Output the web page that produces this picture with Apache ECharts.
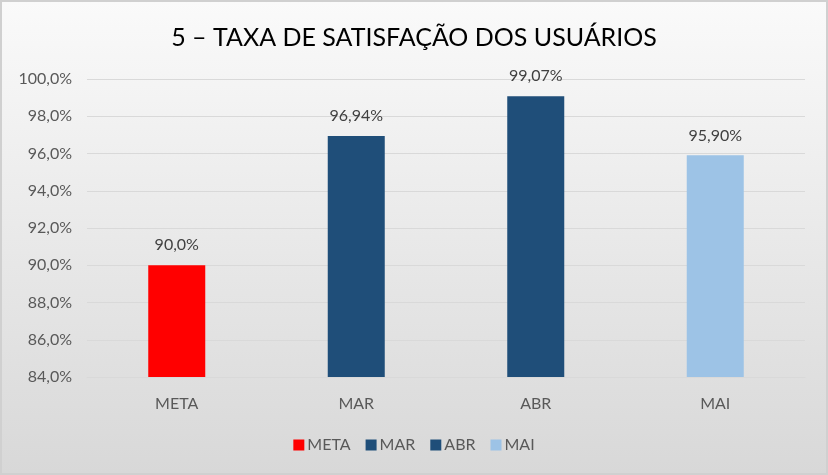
<!DOCTYPE html>
<html><head><meta charset="utf-8">
<script src="https://cdn.jsdelivr.net/npm/echarts@6/dist/echarts.min.js"></script>
<style>html,body{margin:0;padding:0;background:#fff}#c{width:828px;height:475px;box-sizing:border-box;border:2px solid #d0d0d0}</style>
</head><body><div id="c"></div>
<script>
const categories = ['META', 'MAR', 'ABR', 'MAI'];
const values = [90.0, 96.94, 99.07, 95.90];
const valueLabels = ['90,0%', '96,94%', '99,07%', '95,90%'];
const colors = ['#ff0000', '#1f4e79', '#1f4e79', '#9dc3e6'];
const yMin = 84, yMax = 100, yStep = 2;

const chart = echarts.init(document.getElementById('c'), null, {renderer: 'canvas'});
const font = 'Lato, "Open Sans", sans-serif';
const series = categories.map((name, i) => ({
  name: name,
  type: 'bar',
  stack: 'all',
  barWidth: 57,
  itemStyle: {color: colors[i]},
  data: categories.map((c, j) => j === i ? values[i] : null),
  label: {show: true, position: 'top', distance: 12, color: '#404040', fontSize: 16, fontFamily: font,
    formatter: () => valueLabels[i]}
}));
chart.setOption({
  backgroundColor: {type: 'linear', x: 0, y: 0, x2: 0, y2: 1,
    colorStops: [{offset: 0, color: '#fafafa'}, {offset: 1, color: '#d8d8d8'}]},
  title: {text: '5 – TAXA DE SATISFAÇÃO DOS USUÁRIOS', left: 'center', top: 18,
    textStyle: {fontFamily: font, fontWeight: 'normal', fontSize: 25, color: '#000'}},
  legend: {bottom: 15, left: 'center', itemWidth: 11, itemHeight: 11, itemGap: 15, icon: 'rect',
    textStyle: {fontFamily: font, fontSize: 16, color: '#595959', padding: [0, 0, 0, -2]},
    data: categories},
  grid: {left: 85, right: 21, top: 77, bottom: 96},
  xAxis: {type: 'category', data: categories,
    axisLine: {show: true, lineStyle: {color: '#d9d9d9'}}, axisTick: {show: false},
    axisLabel: {fontFamily: font, fontSize: 16, color: '#595959', margin: 19}},
  yAxis: {type: 'value', min: yMin, max: yMax, interval: yStep,
    axisLine: {show: false}, axisTick: {show: false},
    splitLine: {lineStyle: {color: '#d9d9d9'}},
    axisLabel: {fontFamily: font, fontSize: 16, color: '#595959', margin: 15,
      formatter: v => v.toFixed(1).replace('.', ',') + '%'}},
  series: series
});
</script></body></html>
